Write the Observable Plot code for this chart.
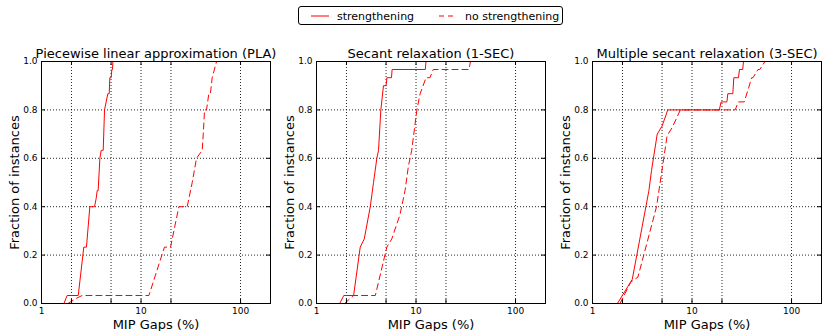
<!DOCTYPE html>
<html><head><meta charset="utf-8">
<script src="https://cdn.jsdelivr.net/npm/d3@7"></script>
<script src="https://cdn.jsdelivr.net/npm/@observablehq/plot@0.6"></script>
<style>
body{margin:0;background:#fff;}
#chart{position:relative;width:823px;height:331px;font-family:"DejaVu Sans",sans-serif;overflow:hidden;}
#legend{position:absolute;left:298px;top:6px;width:265px;height:19px;border:1px solid #000;border-radius:3px;box-sizing:border-box;font-size:11px;}
#legend .item{position:absolute;top:1px;display:flex;align-items:center;height:16px;white-space:nowrap;}
#legend svg{margin-right:8px;}
.panel{position:absolute;top:0;}
</style>
</head><body>
<div id="chart">
  <div id="legend">
    <div class="item" style="left:12px"><svg width="18" height="4"><line x1="0" x2="18" y1="2" y2="2" stroke="#f00" stroke-width="1"/></svg><span>strengthening</span></div>
    <div class="item" style="left:140px"><svg width="18" height="4"><line x1="0" x2="18" y1="2" y2="2" stroke="#f00" stroke-width="1" stroke-dasharray="5,4"/></svg><span>no strengthening</span></div>
  </div>
</div>
<script>
// ---- data ----
const xTicks = [1, 2, 5, 10, 20, 100];
const yTicks = [0, 0.2, 0.4, 0.6, 0.8, 1.0];
const titles = ["Piecewise linear approximation (PLA)", "Secant relaxation (1-SEC)", "Multiple secant relaxation (3-SEC)"];

// PLA
const plaStrongGap  = [1.68, 1.81, 2.34, 2.66, 2.83, 3.06, 3.41, 3.54, 3.63, 3.71, 3.86, 3.98, 4.17, 4.30, 4.64, 4.79, 4.86, 5.01, 5.09, 5.17, 5.22];
const plaStrongFrac = [0, 0.033, 0.033, 0.233, 0.233, 0.4, 0.4, 0.433, 0.467, 0.467, 0.6, 0.633, 0.633, 0.8, 0.867, 0.867, 0.933, 0.933, 0.967, 0.967, 1.0];
const plaNoGap  = [1.85, 2.2, 2.56, 12.0, 17.2, 19.8, 24.0, 29.1, 32.7, 36.1, 41.2, 42.2, 43.5, 45.5, 48.0, 49.8, 51.9, 57.4];
const plaNoFrac = [0, 0.02, 0.033, 0.033, 0.233, 0.233, 0.4, 0.4, 0.5, 0.6, 0.633, 0.7, 0.8, 0.8, 0.867, 0.867, 0.933, 1.0];

// 1-SEC
const secStrongGap  = [1.71, 1.88, 2.36, 2.75, 3.02, 3.47, 3.74, 4.04, 4.2, 4.43, 4.71, 5.0, 5.1, 5.67, 5.75, 12.4, 12.6];
const secStrongFrac = [0, 0.033, 0.033, 0.233, 0.267, 0.4, 0.5, 0.6, 0.633, 0.8, 0.9, 0.9, 0.933, 0.933, 0.967, 0.967, 1.0];
const secNoGap  = [1.92, 2.35, 3.9, 5.09, 5.71, 6.9, 7.76, 8.38, 9.05, 10.2, 11.0, 12.6, 13.8, 14.9, 34.1, 35.2];
const secNoFrac = [0, 0.033, 0.033, 0.233, 0.267, 0.367, 0.467, 0.567, 0.633, 0.8, 0.867, 0.933, 0.933, 0.967, 0.967, 1.0];

// 3-SEC
const msecStrongGap  = [1.78, 2.51, 3.69, 3.92, 4.47, 5.0, 5.71, 18.8, 19.6, 22.4, 22.9, 25.7, 26.3, 29.3, 30.0, 32.3, 32.9];
const msecStrongFrac = [0, 0.1, 0.467, 0.55, 0.7, 0.733, 0.8, 0.8, 0.833, 0.833, 0.867, 0.867, 0.933, 0.933, 0.967, 0.967, 1.0];
const msecNoGap  = [1.89, 2.42, 2.86, 4.4, 5.2, 5.62, 6.3, 7.64, 27.1, 29.3, 33.5, 39.8, 41.0, 46.0, 48.0, 54.0];
const msecNoFrac = [0, 0.088, 0.109, 0.4, 0.6, 0.694, 0.726, 0.8, 0.8, 0.833, 0.833, 0.933, 0.933, 0.967, 0.967, 1.0];

const xGrid = [2, 5, 10, 20, 100];
const yGrid = [0.2, 0.4, 0.6, 0.8];

// ---- drawing ----
const zip = (g, f) => g.map((v, i) => ({gap: v, frac: f[i]}));
const FW = 229, FH = 242, ML = 41, MT = 61, MB = 28;

function panel(title, sG, sF, nG, nF, left, mr) {
  const strong = zip(sG, sF), none = zip(nG, nF);
  const svg = Plot.plot({
    width: ML + FW + mr, height: MT + FH + MB,
    marginLeft: ML, marginRight: mr, marginTop: MT, marginBottom: MB,
    style: {fontFamily: "DejaVu Sans", fontSize: "9px", color: "#000", background: "transparent", overflow: "visible"},
    x: {type: "log", domain: [1, 200], axis: null},
    y: {domain: [0, 1], axis: null},
    marks: [
      Plot.ruleX(xGrid, {x: d => d, stroke: "#000", strokeDasharray: "1,2", strokeWidth: 1, strokeOpacity: 0.85}),
      Plot.ruleY(yGrid, {y: d => d, stroke: "#000", strokeDasharray: "1,2", strokeWidth: 1, strokeOpacity: 0.85}),
      Plot.line(strong, {x: "gap", y: "frac", stroke: "#f00", strokeWidth: 1}),
      Plot.line(none, {x: "gap", y: "frac", stroke: "#f00", strokeWidth: 1, strokeDasharray: "6,4"}),
      Plot.tickX(xTicks, {x: d => d, insetTop: FH - 4, stroke: "#000"}),
      Plot.tickX(xTicks, {x: d => d, insetBottom: FH - 4, stroke: "#000"}),
      Plot.tickY(yTicks, {y: d => d, insetRight: FW - 4, stroke: "#000"}),
      Plot.tickY(yTicks, {y: d => d, insetLeft: FW - 4, stroke: "#000"}),
      Plot.frame({stroke: "#000"}),
      Plot.axisX(xTicks, {tickSize: 0, tickPadding: 4, label: null, tickFormat: d => String(d), fontSize: 9}),
      Plot.axisY(yTicks, {tickSize: 0, tickPadding: 4, label: null, tickFormat: d3.format(".1f"), fontSize: 9}),
      Plot.text([title], {frameAnchor: "top", dy: -4, lineAnchor: "bottom", fontSize: 13}),
      Plot.text(["MIP Gaps (%)"], {frameAnchor: "bottom", dy: 25, lineAnchor: "bottom", fontSize: 13}),
      Plot.text(["Fraction of instances"], {frameAnchor: "left", dx: -23, rotate: -90, textAnchor: "middle", lineAnchor: "bottom", fontSize: 13})
    ]
  });
  svg.classList.add("panel");
  svg.style.left = left + "px";
  document.getElementById("chart").appendChild(svg);
}

panel(titles[0], plaStrongGap, plaStrongFrac, plaNoGap, plaNoFrac, 0, 5);
panel(titles[1], secStrongGap, secStrongFrac, secNoGap, secNoFrac, 275, 5);
panel(titles[2], msecStrongGap, msecStrongFrac, msecNoGap, msecNoFrac, 551, 2);
</script>
</body></html>
